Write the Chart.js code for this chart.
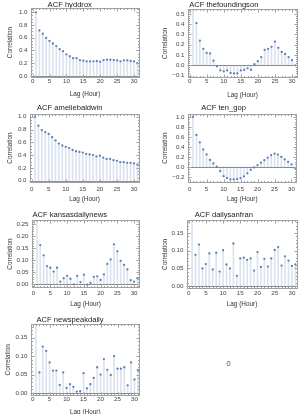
<!DOCTYPE html>
<html><head><meta charset="utf-8">
<script src="https://cdn.jsdelivr.net/npm/chart.js@4.4.1/dist/chart.umd.min.js"></script>
<style>
html,body{margin:0;padding:0;background:#fff;width:303px;height:414px;overflow:hidden;position:relative}
canvas{position:absolute}
#zero{position:absolute;left:226.5px;top:359.5px;font:7px 'Liberation Sans',sans-serif;color:#444;line-height:8px}
</style></head><body>
<div id="zero">0</div>
<script>
// ---- data ----
const lags = [1,2,3,4,5,6,7,8,9,10,11,12,13,14,15,16,17,18,19,20,21,22,23,24,25,26,27,28,29,30,31];
const hyddrox = [1.0,0.715,0.663,0.596,0.55,0.51,0.47,0.42,0.39,0.34,0.31,0.28,0.28,0.25,0.24,0.23,0.23,0.23,0.235,0.225,0.25,0.255,0.255,0.25,0.245,0.23,0.245,0.245,0.235,0.23,0.20];
const thefoundingson = [1.0,0.41,0.24,0.16,0.12,0.115,0.045,-0.01,-0.05,-0.06,-0.05,-0.075,-0.08,-0.08,-0.05,-0.045,-0.03,-0.045,0.01,0.04,0.08,0.15,0.16,0.18,0.23,0.17,0.13,0.11,0.08,0.05,0.0];
const ameliebaldwin = [1.0,0.86,0.79,0.76,0.73,0.68,0.63,0.58,0.55,0.53,0.51,0.48,0.46,0.45,0.44,0.42,0.41,0.40,0.38,0.39,0.36,0.34,0.34,0.32,0.31,0.29,0.29,0.28,0.28,0.27,0.25];
const ten_gop = [1.0,0.64,0.49,0.35,0.25,0.14,0.07,0.005,-0.085,-0.185,-0.225,-0.25,-0.25,-0.245,-0.225,-0.19,-0.13,-0.06,-0.01,0.035,0.085,0.135,0.185,0.235,0.265,0.245,0.2,0.15,0.1,0.05,-0.02];
const kansasdailynews = [1.0,0.163,0.12,0.075,0.068,0.052,0.068,0.01,0.024,0.034,0.022,-0.002,0.034,0.008,0.039,-0.003,0.005,0.03,0.032,0.017,0.04,0.084,0.103,0.166,0.137,0.097,0.08,0.061,0.016,0.01,0.024];
const dailysanfran = [1.0,0.088,0.117,0.05,0.062,0.092,0.047,0.094,0.041,0.101,0.061,0.05,0.12,0.029,0.078,0.08,0.074,0.078,0.044,0.096,0.054,0.077,0.055,0.078,0.102,0.11,0.058,0.084,0.072,0.057,0.061];
const newspeakdaily = [1.0,0.056,0.126,0.114,0.083,0.061,0.061,0.022,0.056,0.014,0.024,0.017,0.004,0.005,0.054,0.013,0.024,0.041,0.07,0.05,0.092,0.063,0.049,0.1,0.066,0.066,0.07,0.021,0.083,0.037,0.062];

const xTicks = [0,5,10,15,20,25,30];
const yTicksUnit = [0,0.2,0.4,0.6,0.8,1.0];
const yTicksFounding = [-0.1,0,0.1,0.2,0.3,0.4,0.5];
const yTicksTenGop = [-0.2,0,0.2,0.4,0.6,0.8,1.0];
const yTicksKansas = [0,0.05,0.10,0.15,0.20,0.25];
const yTicksSmall = [0,0.05,0.10,0.15];

const xTitle = 'Lag (Hour)';
const yTitle = 'Correlation';

// ---- layout (page coordinates) ----
const panels = [
  {title:'ACF hyddrox', vals:hyddrox, yt:yTicksUnit, dec:1, minor:0.05, ymin:-0.024, ymax:1.075,
   c:[0,0,150], tc:4.5, f:[30.5,7.5,139.5,77.5], xl:81, xt:94, ytx:10},
  {title:'ACF thefoundingson', vals:thefoundingson, yt:yTicksFounding, dec:1, minor:0.02, ymin:-0.119, ymax:0.548,
   c:[150,0,153], tc:4.5, f:[187.5,9,297.5,77.5], xl:81.3, xt:94.3, ytx:165},
  {title:'ACF ameliebaldwin', vals:ameliebaldwin, yt:yTicksUnit, dec:1, minor:0.05, ymin:-0.028, ymax:1.05,
   c:[0,103,150], tc:108.3, f:[29.5,113.5,139.5,182.5], xl:189, xt:199, ytx:10},
  {title:'ACF ten_gop', vals:ten_gop, yt:yTicksTenGop, dec:1, minor:0.05, ymin:-0.312, ymax:1.068,
   c:[150,103,153], tc:108.3, f:[187.5,113.5,297,182.5], xl:189, xt:199, ytx:165},
  {title:'ACF kansasdailynews', vals:kansasdailynews, yt:yTicksKansas, dec:2, minor:0.01, ymin:-0.0168, ymax:0.268,
   c:[0,207,150], tc:215, f:[31.5,220,139.5,288], xl:293, xt:304, ytx:10},
  {title:'ACF dailysanfran', vals:dailysanfran, yt:yTicksSmall, dec:2, minor:0.01, ymin:-0.0065, ymax:0.186,
   c:[150,207,153], tc:215, f:[186.5,220,297.5,288.5], xl:293, xt:304, ytx:165},
  {title:'ACF newspeakdaily', vals:newspeakdaily, yt:yTicksSmall, dec:2, minor:0.01, ymin:-0.0065, ymax:0.187,
   c:[0,310,150], tc:320, f:[30.5,324,140,395.5], xl:399.5, xt:412, ytx:8}
];

const FONT = "'Liberation Sans', Arial, sans-serif";
const frameColor = '#a0a0a0';

const frameTicks = {
  id:'frameTicks',
  beforeDatasetsDraw(chart){
    const {ctx, chartArea:a, scales:{y}} = chart;
    if (y.min < 0 && y.max > 0){
      const py = Math.round(y.getPixelForValue(0)) + 0.5;
      ctx.save(); ctx.strokeStyle = '#8c8c8c'; ctx.lineWidth = 1;
      ctx.beginPath(); ctx.moveTo(a.left, py); ctx.lineTo(a.right, py); ctx.stroke(); ctx.restore();
    }
  },
  afterDatasetsDraw(chart, args, opts){
    const {ctx, chartArea:a, scales:{x,y}} = chart;
    ctx.save();
    ctx.strokeStyle = frameColor; ctx.lineWidth = 1;
    const L = Math.round(a.left)+0.5, R = Math.round(a.right)-0.5, T = Math.round(a.top)+0.5, B = Math.round(a.bottom)-0.5;
    ctx.strokeRect(L, T, R-L, B-T);
    ctx.beginPath();
    const maj = 3, mn = 1.5;
    // x ticks
    for (let v = Math.ceil(x.min); v <= x.max; v++){
      const px = Math.round(x.getPixelForValue(v)) + 0.5;
      const len = (v % 5 === 0) ? maj : mn;
      ctx.moveTo(px, B); ctx.lineTo(px, B - len);
      ctx.moveTo(px, T); ctx.lineTo(px, T + len);
    }
    // y ticks
    const step = opts.minor;
    const start = Math.ceil(y.min/step - 1e-9);
    for (let k = start; k*step <= y.max + 1e-9; k++){
      const v = k*step;
      const py = Math.round(y.getPixelForValue(v)) + 0.5;
      const isMaj = opts.major.some(m => Math.abs(m - v) < 1e-9);
      const len = isMaj ? maj : mn;
      ctx.moveTo(L, py); ctx.lineTo(L + len, py);
      ctx.moveTo(R, py); ctx.lineTo(R - len, py);
    }
    ctx.stroke();
    ctx.restore();
  }
};

function fmt(v, d){
  const s = Math.abs(v).toFixed(d);
  return (v < -1e-9 ? '\u2212' : '') + s;
}

panels.forEach(p => {
  const [cx, cy, cw] = p.c;
  const fl = p.f[0]-cx, ft = p.f[1]-cy, fr = p.f[2]-cx, fb = p.f[3]-cy;
  const tcr = p.tc - cy, xlr = p.xl - cy, xtr = p.xt - cy, ytr = p.ytx - cx;
  const titleSize = 7.6, tickSize = 6.2, axSize = 6.4;
  let tlh = Math.min(titleSize, 2*(ft - tcr));
  const tPadTop = Math.max(tcr - tlh/2, 0), tPadBot = Math.max(ft - tPadTop - tlh, 0);
  const axLH = axSize*1.2;
  const ch = Math.ceil(xtr + axLH/2);
  const xH = ch - fb;
  const tickLH = tickSize*1.1;
  const xPad = Math.max(xlr - fb - tickLH/2, 0);

  const canvas = document.createElement('canvas');
  canvas.width = cw; canvas.height = ch;
  canvas.style.left = cx + 'px'; canvas.style.top = cy + 'px';
  canvas.style.width = cw + 'px'; canvas.style.height = ch + 'px';
  document.body.appendChild(canvas);

  const pts = lags.map((l,i) => ({x:l, y:p.vals[i]}));
  new Chart(canvas, {
    type:'scatter',
    data:{datasets:[
      {type:'bar', data:pts, backgroundColor:'rgba(94,129,181,0.22)', borderWidth:0, barThickness:1, order:2},
      {type:'scatter', data:pts, pointRadius:1.15, pointBackgroundColor:'#5E81B5', pointBorderWidth:0, pointHoverRadius:1.15, order:1, clip:0}
    ]},
    options:{
      responsive:false, animation:false, devicePixelRatio:1,
      events:[],
      layout:{padding:{left:0, top:0, right:cw - fr, bottom:0}},
      plugins:{
        legend:{display:false}, tooltip:{enabled:false},
        title:{display:true, text:p.title, color:'#1a1a1a',
          font:{family:FONT, size:titleSize, lineHeight:tlh/titleSize, weight:'normal'},
          padding:{top:tPadTop, bottom:tPadBot}},
        frameTicks:{minor:p.minor, major:p.yt}
      },
      scales:{
        x:{type:'linear', min:-0.62, max:31.62, offset:false,
          grid:{display:false, drawTicks:false}, border:{display:false},
          ticks:{font:{family:FONT, size:tickSize, lineHeight:1.1}, color:'#444', padding:xPad, maxRotation:0, autoSkip:false,
            callback:v => String(v)},
          afterBuildTicks:s => { s.ticks = xTicks.map(v => ({value:v})); },
          afterFit:s => { s.height = xH; },
          title:{display:true, text:xTitle, color:'#333', font:{family:FONT, size:axSize, lineHeight:1.2}, padding:0}
        },
        y:{type:'linear', min:p.ymin, max:p.ymax,
          grid:{display:false, drawTicks:false}, border:{display:false},
          ticks:{font:{family:FONT, size:tickSize, lineHeight:1}, color:'#444', padding:3, autoSkip:false,
            callback:v => fmt(v, p.dec)},
          afterBuildTicks:s => { s.ticks = p.yt.map(v => ({value:v})); },
          afterFit:s => { s.width = fl; },
          title:{display:true, text:yTitle, color:'#333', font:{family:FONT, size:axSize, lineHeight:1.2}, padding:{top:Math.max(ytr - axLH/2,0), bottom:0}}
        }
      }
    },
    plugins:[frameTicks]
  });
});
</script>
</body></html>
